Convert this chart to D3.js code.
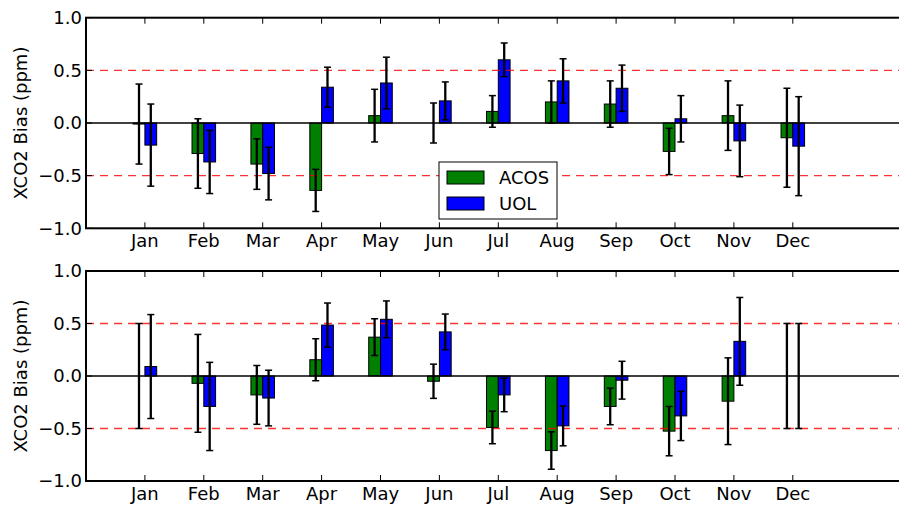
<!DOCTYPE html>
<html>
<head>
<meta charset="utf-8">
<script src="https://cdn.jsdelivr.net/npm/d3@7"></script>
<style>
  body { margin: 0; background: #fff; }
  svg { display: block; font-family: "DejaVu Sans", sans-serif; }
</style>
</head>
<body>
<div id="chart"></div>
<script>
// month labels
var months = ['Jan', 'Feb', 'Mar', 'Apr', 'May', 'Jun', 'Jul', 'Aug', 'Sep', 'Oct', 'Nov', 'Dec']
var yTicks = [1.0, 0.5, 0.0, -0.5, -1.0]

// top panel
var acosTop = [-0.01, -0.29, -0.39, -0.64, 0.07, 0.0, 0.11, 0.20, 0.18, -0.27, 0.07, -0.14]
var acosTopErr = [0.38, 0.33, 0.24, 0.20, 0.25, 0.19, 0.15, 0.20, 0.22, 0.22, 0.33, 0.47]
var uolTop = [-0.21, -0.37, -0.48, 0.34, 0.38, 0.21, 0.60, 0.40, 0.33, 0.04, -0.17, -0.22]
var uolTopErr = [0.39, 0.30, 0.25, 0.19, 0.245, 0.18, 0.16, 0.21, 0.22, 0.22, 0.34, 0.47]

// bottom panel
var acosBot = [0.0, -0.07, -0.18, 0.155, 0.37, -0.05, -0.49, -0.71, -0.29, -0.525, -0.24, 0.0]
var acosBotErr = [0.5, 0.466, 0.28, 0.2, 0.175, 0.163, 0.155, 0.178, 0.174, 0.235, 0.413, 0.5]
var uolBot = [0.09, -0.29, -0.21, 0.485, 0.54, 0.42, -0.18, -0.475, -0.04, -0.38, 0.33, 0.0]
var uolBotErr = [0.495, 0.42, 0.265, 0.21, 0.175, 0.17, 0.16, 0.19, 0.18, 0.235, 0.418, 0.5]

var W = 899, H = 505
var barW = 0.2
var fs = 18

var svg = d3.select('#chart')
    .append('svg')
    .attr('width', W)
    .attr('height', H)

// x: month index 1..12, axis runs past the right edge of the window
var x = d3.scaleLinear().domain([0, 14]).range([86, 86 + 58.9 * 14])

function drawPanel(top, bottom, acos, acosErr, uol, uolErr, legend) {
    var y = d3.scaleLinear().domain([-1, 1]).range([bottom, top])
    var g = svg.append('g')

    var series = [
        { vals: acos, errs: acosErr, off: -barW, color: '#008000' },
        { vals: uol, errs: uolErr, off: 0, color: '#0000ff' }
    ]

    series.forEach(s => {
        g.selectAll(null)
            .data(s.vals)
            .enter()
            .append('rect')
            .attr('x', (d, i) => x(i + 1 + s.off))
            .attr('width', x(barW) - x(0))
            .attr('y', d => y(Math.max(0, d)))
            .attr('height', d => Math.abs(y(d) - y(0)))
            .attr('fill', s.color)
            .attr('stroke', '#000')
            .attr('stroke-width', 1)
    })

    // reference lines
    g.append('line')
        .attr('x1', x(0)).attr('x2', W)
        .attr('y1', y(0)).attr('y2', y(0))
        .attr('stroke', '#000').attr('stroke-width', 1.5)
    ;[0.5, -0.5].forEach(v => {
        g.append('line')
            .attr('x1', x(0)).attr('x2', W)
            .attr('y1', y(v)).attr('y2', y(v))
            .attr('stroke', 'red').attr('stroke-opacity', 0.8)
            .attr('stroke-width', 1.3)
            .attr('stroke-dasharray', '8,6')
    })

    // error bars
    series.forEach(s => {
        var eb = g.selectAll(null)
            .data(s.vals.map((v, i) => ({ v: v, e: s.errs[i], cx: x(i + 1 + s.off + barW / 2) })))
            .enter()
            .append('g')
        eb.append('line')
            .attr('x1', d => d.cx).attr('x2', d => d.cx)
            .attr('y1', d => y(d.v + d.e)).attr('y2', d => y(d.v - d.e))
            .attr('stroke', '#000').attr('stroke-width', 2.3)
        ;[1, -1].forEach(sg => {
            eb.append('line')
                .attr('x1', d => d.cx - 3.5).attr('x2', d => d.cx + 3.5)
                .attr('y1', d => y(d.v + sg * d.e)).attr('y2', d => y(d.v + sg * d.e))
                .attr('stroke', '#000').attr('stroke-width', 1.5)
        })
    })

    // ticks (inward)
    months.forEach((m, i) => {
        var tx = x(i + 1)
        g.append('line').attr('x1', tx).attr('x2', tx)
            .attr('y1', top).attr('y2', top + 6)
            .attr('stroke', '#000').attr('stroke-width', 1)
        g.append('line').attr('x1', tx).attr('x2', tx)
            .attr('y1', bottom).attr('y2', bottom - 6)
            .attr('stroke', '#000').attr('stroke-width', 1)
    })
    g.selectAll('.xl')
        .data(months)
        .enter()
        .append('text')
        .attr('x', (d, i) => x(i + 1))
        .attr('y', bottom + 18.5)
        .attr('text-anchor', 'middle')
        .attr('font-size', fs)
        .text(d => d)

    yTicks.forEach(v => {
        g.append('line').attr('x1', x(0)).attr('x2', x(0) + 6)
            .attr('y1', y(v)).attr('y2', y(v))
            .attr('stroke', '#000').attr('stroke-width', 1)
        g.append('text')
            .attr('x', 82)
            .attr('y', y(v))
            .attr('dy', '0.36em')
            .attr('text-anchor', 'end')
            .attr('font-size', fs)
            .text(v.toFixed(1).replace('-', '\u2212'))
    })

    // spines (right one is off the window)
    g.append('rect')
        .attr('x', x(0)).attr('y', top)
        .attr('width', x(14) - x(0)).attr('height', bottom - top)
        .attr('fill', 'none').attr('stroke', '#000').attr('stroke-width', 2)

    g.append('text')
        .attr('transform', `translate(21,${(top + bottom) / 2}) rotate(-90)`)
        .attr('dy', '0.36em')
        .attr('text-anchor', 'middle')
        .attr('font-size', fs)
        .text('XCO2 Bias (ppm)')

    if (legend) {
        var lg = g.append('g').attr('transform', 'translate(439,162)')
        lg.append('rect')
            .attr('width', 118).attr('height', 57)
            .attr('fill', '#fff').attr('stroke', '#000').attr('stroke-width', 1)
        var items = [['ACOS', '#008000'], ['UOL', '#0000ff']]
        items.forEach((it, k) => {
            lg.append('rect')
                .attr('x', 8).attr('y', 9 + k * 26)
                .attr('width', 37).attr('height', 13)
                .attr('fill', it[1]).attr('stroke', '#000').attr('stroke-width', 1)
            lg.append('text')
                .attr('x', 60).attr('y', 15.5 + k * 26)
                .attr('dy', '0.36em')
                .attr('font-size', fs)
                .text(it[0])
        })
    }
}

drawPanel(17.7, 228.3, acosTop, acosTopErr, uolTop, uolTopErr, true)
drawPanel(271, 481, acosBot, acosBotErr, uolBot, uolBotErr, false)
</script>
</body>
</html>
